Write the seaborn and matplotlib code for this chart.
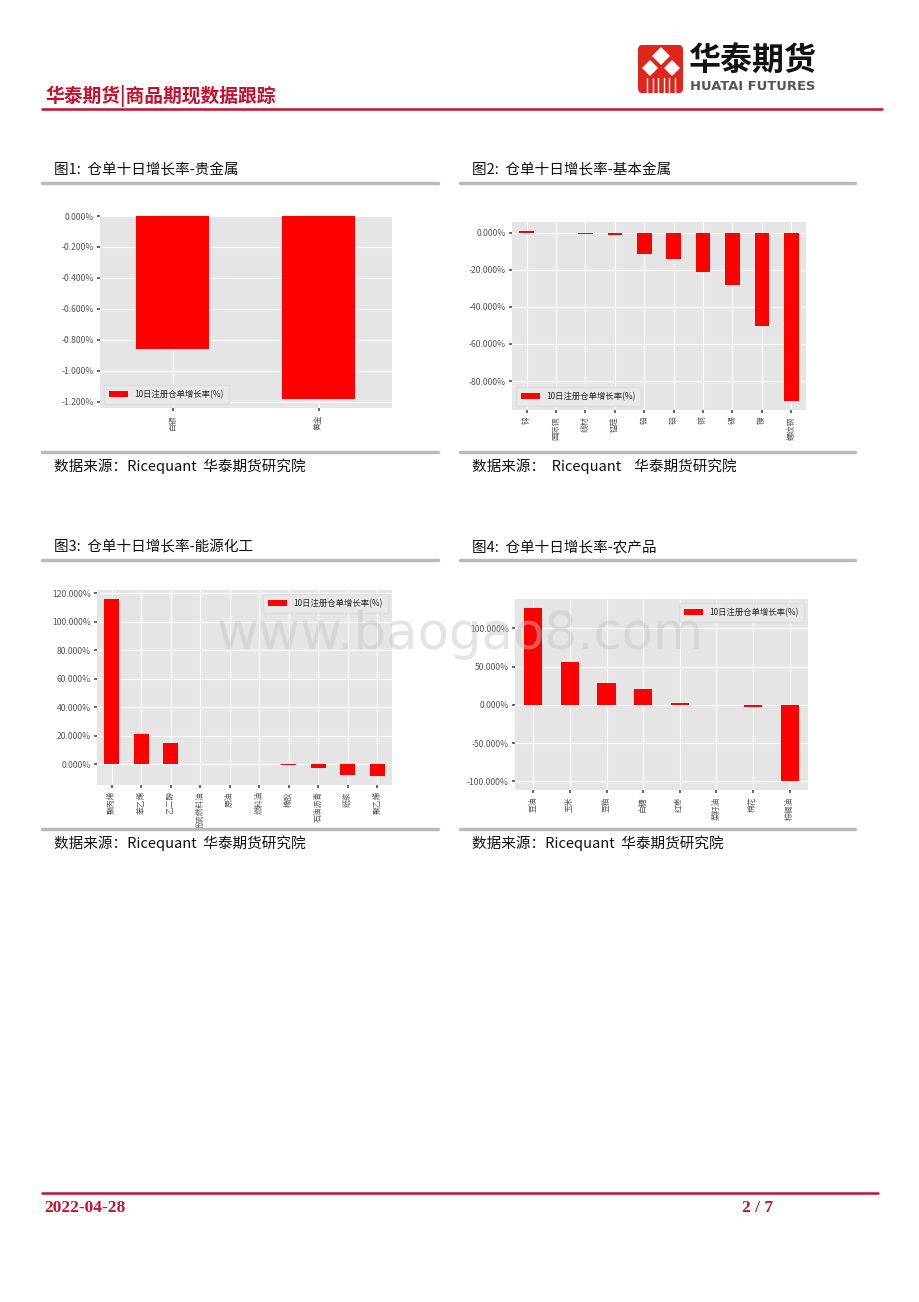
import matplotlib
matplotlib.use("Agg")
import matplotlib.pyplot as plt
import matplotlib.patches as mpatches
from matplotlib.ticker import FuncFormatter
import seaborn as sns
import pandas as pd

# ---------------- data ----------------
legend_label = "10日注册仓单增长率(%)"

cats1 = ["白银", "黄金"]
vals1 = [-0.86, -1.18]

cats2 = ["锌", "国际铜", "线材", "锰硅", "铅", "铝", "铜", "锡", "镍", "螺纹钢"]
vals2 = [1.2, 0.0, -0.6, -1.2, -11.5, -14.0, -21.0, -28.0, -50.5, -91.0]

cats3 = ["聚丙烯", "苯乙烯", "乙二醇", "低硫燃料油", "原油", "燃料油", "橡胶", "石油沥青", "纸浆", "聚乙烯"]
vals3 = [116.0, 21.0, 15.0, 0.0, 0.0, 0.0, -1.0, -3.0, -8.0, -8.5]

cats4 = ["豆油", "玉米", "豆粕", "白糖", "红枣", "菜籽油", "棉花", "棕榈油"]
vals4 = [127.0, 56.0, 29.0, 21.0, 2.0, 0.0, -3.0, -100.0]

titles = ["图1:  仓单十日增长率-贵金属", "图2:  仓单十日增长率-基本金属",
          "图3:  仓单十日增长率-能源化工", "图4:  仓单十日增长率-农产品"]
sources = ["数据来源：Ricequant  华泰期货研究院", "数据来源：  Ricequant    华泰期货研究院",
           "数据来源：Ricequant  华泰期货研究院", "数据来源：Ricequant  华泰期货研究院"]
legend_locs = ["lower left", "lower left", "upper right", "upper right"]

# ---------------- style ----------------
sns.set_theme(style="darkgrid", rc={
    "axes.facecolor": "#E5E5E5",
    "grid.color": "white",
    "grid.linewidth": 0.8,
    "axes.edgecolor": "#E5E5E5",
    "xtick.color": "#555555",
    "ytick.color": "#555555",
    "xtick.bottom": True,
    "ytick.left": True,
    "xtick.major.size": 2.5,
    "ytick.major.size": 2.5,
})
plt.rcParams["font.family"] = ["Noto Sans CJK SC", "DejaVu Sans"]
plt.rcParams["axes.unicode_minus"] = False

W, H = 920, 1302
fig = plt.figure(figsize=(W / 100, H / 100), dpi=100)
fig.patch.set_facecolor("white")


def fx(x):
    return x / W


def fy(y):
    return 1 - y / H


RED = "#C8102E"

# ---------------- header ----------------
fig.text(fx(45), fy(96), "华泰期货|商品期现数据跟踪", color=RED, fontsize=13.5,
         fontweight="bold", va="center", ha="left")
fig.add_artist(plt.Line2D([fx(42), fx(882)], [fy(109), fy(109)], color=RED, lw=1.8,
                          transform=fig.transFigure))

# logo
logo = mpatches.FancyBboxPatch((fx(638), fy(93)), fx(45), 48 / H,
                               boxstyle="round,pad=0,rounding_size=0.004",
                               transform=fig.transFigure, facecolor="#E1251B",
                               edgecolor="none")
fig.add_artist(logo)
for cx, cy, s in [(661, 56, 9), (650, 68, 8), (672, 68, 8)]:
    d = mpatches.Polygon([(fx(cx), fy(cy - s)), (fx(cx + s), fy(cy)),
                          (fx(cx), fy(cy + s)), (fx(cx - s), fy(cy))],
                         closed=True, transform=fig.transFigure,
                         facecolor="white", edgecolor="none")
    fig.add_artist(d)
for lx in [647, 653, 658, 664, 669, 675]:
    fig.add_artist(plt.Line2D([fx(lx), fx(lx)], [fy(78), fy(93)], color="white",
                              lw=1.0, transform=fig.transFigure))
fig.text(fx(688), fy(61), "华泰期货", fontsize=23, fontweight="bold", color="#111111",
         va="center", ha="left")
fig.text(fx(690), fy(86), "HUATAI FUTURES", fontsize=9.4, fontweight="bold",
         color="#555555", va="center", ha="left", family=["DejaVu Sans"])

# ---------------- panels frame ----------------
GRAY = "#BBBBBB"
panels_x = [(42, 438), (460, 855)]
rows = [dict(title_y=170, top_line=183, bot_line=452, src_y=466),
        dict(title_y=547, top_line=560, bot_line=829, src_y=843)]
for r, row in enumerate(rows):
    for c, (x0, x1) in enumerate(panels_x):
        i = r * 2 + c
        fig.text(fx(x0 + 12), fy(row["title_y"]), titles[i], fontsize=10.5,
                 color="#111111", va="center", ha="left")
        fig.add_artist(plt.Line2D([fx(x0), fx(x1)], [fy(row["top_line"])] * 2,
                                  color=GRAY, lw=2.5, transform=fig.transFigure))
        fig.add_artist(plt.Line2D([fx(x0), fx(x1)], [fy(row["bot_line"])] * 2,
                                  color=GRAY, lw=2.5, transform=fig.transFigure))
        fig.text(fx(x0 + 12), fy(row["src_y"]), sources[i], fontsize=10.5,
                 color="#111111", va="center", ha="left")

# ---------------- charts ----------------
axes_px = [(100, 216, 392, 408), (512, 222, 806, 410),
           (97, 590, 392, 785), (515, 599, 808, 790)]
data = [(cats1, vals1), (cats2, vals2), (cats3, vals3), (cats4, vals4)]
fmt = FuncFormatter(lambda v, p: f"{v:.3f}%")

for i, ((x0, y0, x1, y1), (cats, vals)) in enumerate(zip(axes_px, data)):
    ax = fig.add_axes([fx(x0), fy(y1), (x1 - x0) / W, (y1 - y0) / H])
    df = pd.DataFrame({"cat": cats, "val": vals})
    sns.barplot(data=df, x="cat", y="val", color="#FF0000", saturation=1,
                width=0.5, ax=ax, label=legend_label, linewidth=0)
    ax.set_xlim(-0.5, len(cats) - 0.5)
    ax.margins(y=0.05)
    ax.set_xlabel("")
    ax.set_ylabel("")
    ax.yaxis.set_major_formatter(fmt)
    ax.grid(True, axis="both", color="white", lw=0.8)
    ax.set_axisbelow(True)
    ax.tick_params(axis="x", labelrotation=90, labelsize=5.6, pad=2)
    ax.tick_params(axis="y", labelsize=6.2, pad=2)
    for s in ax.spines.values():
        s.set_visible(False)
    ax.legend(loc=legend_locs[i], fontsize=6.0, frameon=True,
              facecolor="#E8E8E8", edgecolor="#DDDDDD", framealpha=1,
              handlelength=2.2, borderpad=0.6)
    ax.relim()
    ax.autoscale_view()

# ---------------- watermark ----------------
fig.text(fx(460), fy(635), "www.baogao8.com", fontsize=37, color="#C4C4C4",
         alpha=0.45, ha="center", va="center", family=["DejaVu Sans"], zorder=100)

# ---------------- footer ----------------
fig.add_artist(plt.Line2D([fx(42), fx(878)], [fy(1193), fy(1193)], color=RED, lw=1.8,
                          transform=fig.transFigure))
fig.text(fx(44), fy(1208), "2022-04-28", fontsize=12.5, fontweight="bold", color=RED,
         va="center", ha="left", family=["Liberation Serif", "DejaVu Serif"])
fig.text(fx(742), fy(1208), "2 / 7", fontsize=12.5, fontweight="bold", color=RED,
         va="center", ha="left", family=["Liberation Serif", "DejaVu Serif"])

fig.savefig("out.png", dpi=100, facecolor="white")
